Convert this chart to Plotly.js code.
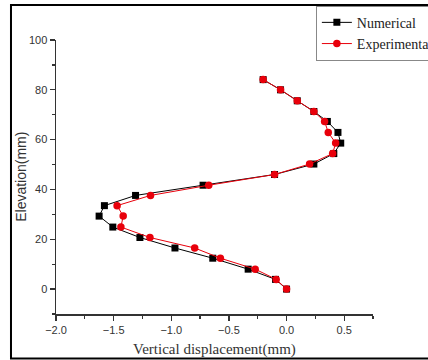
<!DOCTYPE html>
<html>
<head>
<meta charset="utf-8">
<script src="https://cdn.plot.ly/plotly-3.0.1.min.js"></script>
<style>
html,body{margin:0;padding:0;background:#fff;}
#chart{width:428px;height:360px;}
</style>
</head>
<body>
<div id="chart"></div>
<script>
const elevation = [0, 3.9, 8.0, 12.4, 16.5, 20.7, 24.9, 29.3, 33.5, 37.6, 41.7, 46.0, 50.2, 54.4, 58.6, 62.9, 67.3, 71.3, 75.6, 80.0, 84.1];
const numerical = [0, -0.096, -0.333, -0.64, -0.968, -1.272, -1.507, -1.626, -1.58, -1.31, -0.724, -0.104, 0.237, 0.41, 0.47, 0.446, 0.354, 0.237, 0.093, -0.052, -0.203];
const experimental = [0, -0.09, -0.272, -0.574, -0.797, -1.185, -1.437, -1.417, -1.47, -1.18, -0.675, -0.104, 0.2, 0.4, 0.426, 0.362, 0.33, 0.237, 0.093, -0.052, -0.203];
const seriesNames = ["Numerical", "Experimental"];
const xTitle = "Vertical displacement(mm)";
const yTitle = "Elevation(mm)";

const traces = [
  {
    x: numerical, y: elevation, name: seriesNames[0], type: "scatter", mode: "lines+markers",
    line: {color: "#000000", width: 1},
    marker: {symbol: "square", size: 7, color: "#000000"}
  },
  {
    x: experimental, y: elevation, name: seriesNames[1], type: "scatter", mode: "lines+markers",
    line: {color: "#e8000b", width: 1},
    marker: {symbol: "circle", size: 7.5, color: "#e8000b"}
  }
];

const SANS = "Liberation Sans";
const SERIF = "Liberation Serif";

const axisCommon = {
  automargin: false,
  showgrid: false, zeroline: false, showline: true, linecolor: "#333333", linewidth: 1.5,
  ticks: "outside", ticklen: 5, tickwidth: 1.2, tickcolor: "#333333",
  tickfont: {family: SANS, size: 11, color: "#333333"}
};

const layout = {
  width: 428, height: 360,
  margin: {l: 56, r: 55, t: 40, b: 46, autoexpand: false},
  font: {family: SANS},
  paper_bgcolor: "#ffffff", plot_bgcolor: "#ffffff",
  showlegend: true,
  legend: {
    xref: "container", yref: "container",
    x: 0.738, y: 0.984, xanchor: "left", yanchor: "top",
    bordercolor: "#888888", borderwidth: 1, bgcolor: "#ffffff",
    font: {family: SERIF, size: 14, color: "#222222"},
    tracegroupgap: 0, itemwidth: 30
  },
  xaxis: Object.assign({}, axisCommon, {
    range: [-2.0, 0.75], tick0: -2, dtick: 0.5, tickformat: ".1f",
    minor: {dtick: 0.25, ticklen: 3, tickcolor: "#333333", ticks: "outside"}
  }),
  yaxis: Object.assign({}, axisCommon, {
    range: [-10, 100], tick0: 0, dtick: 20,
    minor: {dtick: 10, ticklen: 3, tickcolor: "#333333", ticks: "outside"}
  }),
  annotations: [
    {text: xTitle, xref: "paper", yref: "paper", x: 0.5, y: -0.131, xanchor: "center", yanchor: "middle",
     showarrow: false, font: {family: SERIF, size: 15, color: "#333333"}},
    {text: yTitle, xref: "paper", yref: "paper", x: -0.111, y: 0.5, xanchor: "center", yanchor: "middle",
     textangle: -90, showarrow: false, font: {family: SANS, size: 14, color: "#333333"}}
  ],
  shapes: [{
    type: "rect", xref: "paper", yref: "paper",
    x0: -0.142, x1: 1.18, y0: -0.162, y1: 1.128,
    line: {color: "#000000", width: 2}, fillcolor: "rgba(0,0,0,0)", layer: "below"
  }]
};

Plotly.newPlot("chart", traces, layout, {displayModeBar: false, staticPlot: true});
</script>
</body>
</html>
